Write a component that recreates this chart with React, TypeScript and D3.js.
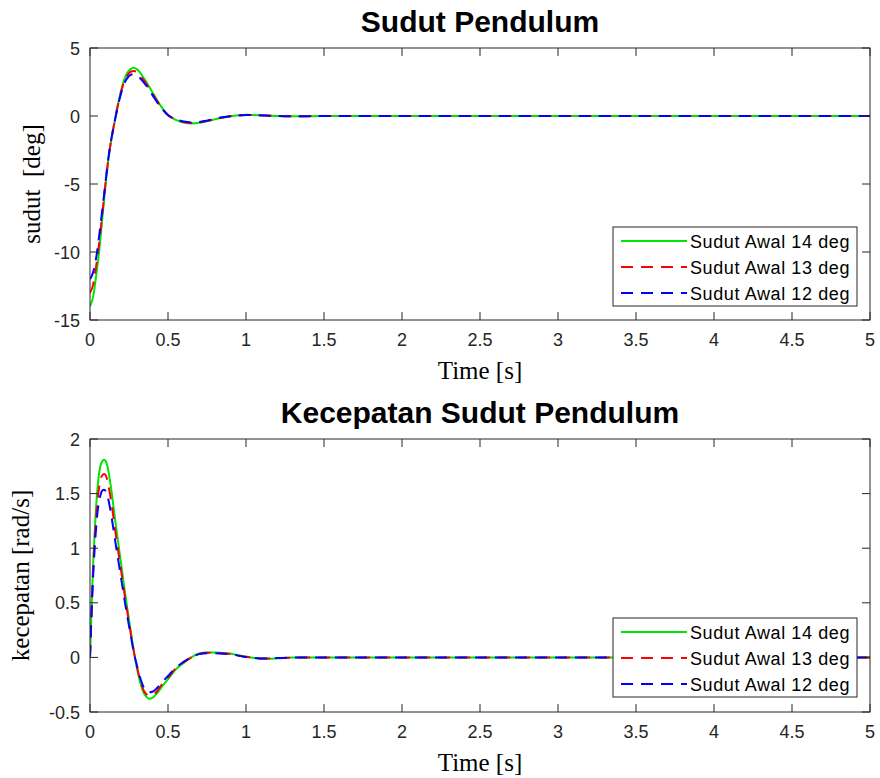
import React from 'react';
import * as d3 from 'd3';

// ---------- data ----------
const xTicks = [0, 0.5, 1, 1.5, 2, 2.5, 3, 3.5, 4, 4.5, 5];
const angleTicks = [-15, -10, -5, 0, 5];
const velTicks = [-0.5, 0, 0.5, 1, 1.5, 2];
const legendLabels = ['Sudut Awal 14 deg', 'Sudut Awal 13 deg', 'Sudut Awal 12 deg'];

const tAngle = [0, 0.02, 0.04, 0.06, 0.08, 0.10, 0.12, 0.14, 0.16, 0.18, 0.20, 0.22, 0.24, 0.26, 0.28, 0.30, 0.32, 0.35, 0.40, 0.45, 0.50, 0.55, 0.60, 0.65, 0.70, 0.75, 0.80, 0.85, 0.90, 0.95, 1.0, 1.05, 1.1, 1.15, 1.2, 1.3, 1.5, 2, 3, 4, 5];
const angle14 = [-14.0, -13.3, -11.7, -9.8, -7.4, -5.0, -3.0, -1.5, -0.3, 0.9, 1.9, 2.7, 3.2, 3.45, 3.55, 3.45, 3.2, 2.7, 1.75, 0.8, 0.08, -0.28, -0.48, -0.55, -0.5, -0.38, -0.25, -0.12, -0.02, 0.05, 0.09, 0.08, 0.05, 0.02, 0, -0.02, 0, 0, 0, 0, 0];
const angle13 = [-13.0, -12.4, -11.0, -9.2, -7.1, -4.9, -2.95, -1.5, -0.3, 0.85, 1.8, 2.55, 3.0, 3.25, 3.31, 3.22, 3.0, 2.55, 1.65, 0.75, 0.07, -0.26, -0.44, -0.51, -0.47, -0.36, -0.23, -0.11, -0.02, 0.05, 0.08, 0.07, 0.05, 0.02, 0, -0.02, 0, 0, 0, 0, 0];
const angle12 = [-12.0, -11.5, -10.4, -8.7, -6.8, -4.8, -2.9, -1.5, -0.3, 0.8, 1.7, 2.4, 2.8, 3.02, 3.07, 3.0, 2.8, 2.4, 1.55, 0.7, 0.06, -0.24, -0.41, -0.47, -0.44, -0.34, -0.21, -0.1, -0.02, 0.04, 0.07, 0.06, 0.04, 0.02, 0, -0.02, 0, 0, 0, 0, 0];

const tVel = [0, 0.01, 0.02, 0.03, 0.04, 0.05, 0.06, 0.07, 0.08, 0.09, 0.10, 0.11, 0.12, 0.14, 0.16, 0.18, 0.20, 0.22, 0.24, 0.26, 0.28, 0.30, 0.32, 0.34, 0.36, 0.38, 0.40, 0.43, 0.46, 0.50, 0.55, 0.60, 0.65, 0.70, 0.75, 0.80, 0.85, 0.90, 0.95, 1.0, 1.05, 1.1, 1.15, 1.2, 1.3, 1.5, 2, 5];
const vel14 = [0, 0.45, 0.85, 1.15, 1.4, 1.58, 1.7, 1.77, 1.8, 1.81, 1.8, 1.76, 1.69, 1.5, 1.27, 1.06, 0.85, 0.64, 0.44, 0.25, 0.07, -0.09, -0.22, -0.31, -0.36, -0.378, -0.37, -0.33, -0.27, -0.2, -0.11, -0.05, 0.0, 0.035, 0.045, 0.045, 0.04, 0.035, 0.02, 0.005, -0.005, -0.012, -0.012, -0.008, -0.002, 0, 0, 0];
const vel13 = [0, 0.43, 0.8, 1.08, 1.3, 1.46, 1.57, 1.64, 1.67, 1.68, 1.67, 1.63, 1.56, 1.39, 1.18, 0.98, 0.79, 0.59, 0.41, 0.23, 0.06, -0.08, -0.2, -0.29, -0.335, -0.35, -0.345, -0.31, -0.25, -0.185, -0.1, -0.045, 0, 0.032, 0.042, 0.042, 0.037, 0.032, 0.018, 0.005, -0.005, -0.011, -0.011, -0.007, -0.002, 0, 0, 0];
const vel12 = [0, 0.4, 0.74, 1.0, 1.2, 1.35, 1.44, 1.5, 1.53, 1.535, 1.525, 1.49, 1.43, 1.27, 1.08, 0.9, 0.72, 0.54, 0.37, 0.21, 0.05, -0.07, -0.18, -0.26, -0.305, -0.32, -0.315, -0.28, -0.23, -0.17, -0.095, -0.04, 0, 0.03, 0.038, 0.038, 0.034, 0.029, 0.016, 0.004, -0.005, -0.01, -0.01, -0.006, -0.002, 0, 0, 0];

// ---------- styles ----------
const COLORS = ['#00e600', '#ff0000', '#0000ff'];
const DASHES = [undefined, '12 8', '12 8'];
const AXIS = '#262626';
const SANS = '"Liberation Sans", Arial, Helvetica, sans-serif';
const SERIF = '"Liberation Serif", "Times New Roman", "DejaVu Serif", serif';

const X0 = 90;
const X1 = 870;

type PanelProps = {
  top: number;
  bottom: number;
  yDomain: [number, number];
  yTicks: number[];
  t: number[];
  series: number[][];
  title: string;
  ylabel: string;
  ylabelX: number;
  legendTop: number;
};

function Panel({ top, bottom, yDomain, yTicks, t, series, title, ylabel, ylabelX, legendTop }: PanelProps) {
  const x = d3.scaleLinear().domain([0, 5]).range([X0, X1]);
  const y = d3.scaleLinear().domain(yDomain).range([bottom, top]);
  const tick = 8;
  const clipId = `clip-${top}`;
  const lineGen = (vals: number[]) =>
    d3
      .line<number>()
      .x((_, i) => x(t[i]))
      .y((d) => y(d))
      .curve(d3.curveMonotoneX)(vals) || '';

  const legX = 613;
  const legW = 244;
  const legH = 79;
  const rowH = 26;

  return (
    <g>
      <text x={(X0 + X1) / 2} y={top - 16} textAnchor="middle" fontFamily={SANS} fontWeight="bold" fontSize={30} fill="#000">
        {title}
      </text>
      <defs>
        <clipPath id={clipId}>
          <rect x={X0} y={top} width={X1 - X0} height={bottom - top} />
        </clipPath>
      </defs>
      <rect x={X0} y={top} width={X1 - X0} height={bottom - top} fill="#fff" />
      <g clipPath={`url(#${clipId})`}>
        {series.map((s, i) => (
          <path key={i} d={lineGen(s)} fill="none" stroke={COLORS[i]} strokeWidth={2} strokeDasharray={DASHES[i]} />
        ))}
      </g>
      {/* ticks */}
      {xTicks.map((v) => (
        <g key={`x${v}`}>
          <line x1={x(v)} x2={x(v)} y1={bottom} y2={bottom - tick} stroke={AXIS} strokeWidth={1} />
          <line x1={x(v)} x2={x(v)} y1={top} y2={top + tick} stroke={AXIS} strokeWidth={1} />
          <text x={x(v)} y={bottom + 26} textAnchor="middle" fontFamily={SANS} fontSize={18} fill={AXIS}>
            {String(v)}
          </text>
        </g>
      ))}
      {yTicks.map((v) => (
        <g key={`y${v}`}>
          <line x1={X0} x2={X0 + tick} y1={y(v)} y2={y(v)} stroke={AXIS} strokeWidth={1} />
          <line x1={X1} x2={X1 - tick} y1={y(v)} y2={y(v)} stroke={AXIS} strokeWidth={1} />
          <text x={X0 - 10} y={y(v) + 6.5} textAnchor="end" fontFamily={SANS} fontSize={18} fill={AXIS}>
            {String(v)}
          </text>
        </g>
      ))}
      <rect x={X0} y={top} width={X1 - X0} height={bottom - top} fill="none" stroke={AXIS} strokeWidth={1} />
      {/* axis labels */}
      <text x={(X0 + X1) / 2} y={bottom + 59} textAnchor="middle" fontFamily={SERIF} fontSize={25} fill="#000">
        Time [s]
      </text>
      <text
        transform={`translate(${ylabelX},${(top + bottom) / 2}) rotate(-90)`}
        textAnchor="middle"
        fontFamily={SERIF}
        fontSize={25}
        fill="#000"
        style={{ whiteSpace: 'pre' }}
      >
        {ylabel}
      </text>
      {/* legend */}
      <rect x={legX} y={legendTop} width={legW} height={legH} fill="#fff" stroke={AXIS} strokeWidth={1} />
      {legendLabels.map((lab, i) => {
        const cy = legendTop + 14 + i * rowH;
        return (
          <g key={lab}>
            <line x1={legX + 8} x2={legX + 74} y1={cy} y2={cy} stroke={COLORS[i]} strokeWidth={2} strokeDasharray={DASHES[i]} />
            <text x={legX + 77} y={cy + 6.5} fontFamily={SANS} fontSize={18} letterSpacing={0.6} fill="#000">
              {lab}
            </text>
          </g>
        );
      })}
    </g>
  );
}

export default function App() {
  return (
    <svg
      width={880}
      height={778}
      viewBox="0 0 880 778"
      style={{ position: 'absolute', left: 0, top: 0, background: '#fff' }}
    >
      <rect x={0} y={0} width={880} height={778} fill="#fff" />
      <Panel
        top={48}
        bottom={320}
        yDomain={[-15, 5]}
        yTicks={angleTicks}
        t={tAngle}
        series={[angle14, angle13, angle12]}
        title="Sudut Pendulum"
        ylabel={'sudut  [deg]'}
        ylabelX={40}
        legendTop={227}
      />
      <Panel
        top={439}
        bottom={712}
        yDomain={[-0.5, 2]}
        yTicks={velTicks}
        t={tVel}
        series={[vel14, vel13, vel12]}
        title="Kecepatan Sudut Pendulum"
        ylabel="kecepatan [rad/s]"
        ylabelX={29}
        legendTop={618}
      />
    </svg>
  );
}
